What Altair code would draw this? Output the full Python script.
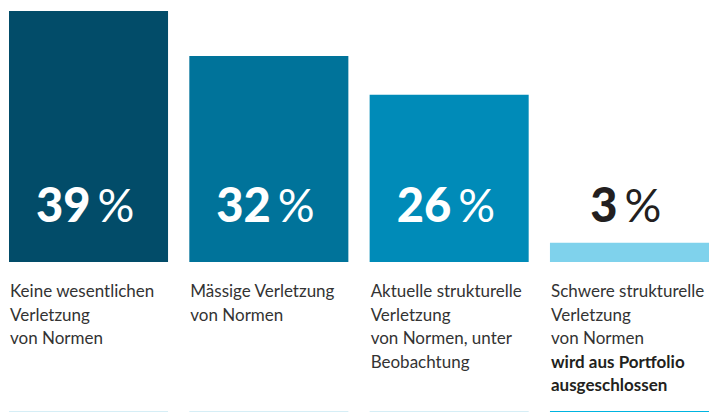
import altair as alt
import pandas as pd

categories = ["A", "B", "C", "D"]
values = [39, 32, 26, 3]
labels = [
    "Keine wesentlichen\nVerletzung\nvon Normen",
    "Mässige Verletzung\nvon Normen",
    "Aktuelle strukturelle\nVerletzung\nvon Normen, unter\nBeobachtung",
    "Schwere strukturelle\nVerletzung\nvon Normen",
]
notes = ["", "", "", "wird aus Portfolio\nausgeschlossen"]
bar_colors = ["#024c69", "#00739a", "#008bb8", "#7fd2ec"]
line_colors = ["#d6eef6", "#d6eef6", "#d6eef6", "#00b4e0"]

df = pd.DataFrame({
    "cat": categories,
    "value": values,
    "label": labels,
    "note": notes,
    "num": [str(v) for v in values],
    "pct": ["%"] * len(values),
})

FONT = "Lato"

x = alt.X("cat:N", sort=categories, axis=None,
          scale=alt.Scale(paddingInner=0.118, paddingOuter=0))
x_left = alt.X("cat:N", sort=categories, axis=None, bandPosition=0,
               scale=alt.Scale(paddingInner=0.118, paddingOuter=0))

base = alt.Chart(df)

bars = base.mark_bar().encode(
    x=x,
    y=alt.Y("value:Q", axis=None, scale=alt.Scale(domain=[0, 39], nice=False, zero=True)),
    color=alt.Color("cat:N", scale=alt.Scale(domain=categories, range=bar_colors), legend=None),
)

txt_color = alt.condition(alt.datum.value >= 10, alt.value("white"), alt.value("#231f20"))

num_big = base.transform_filter(alt.datum.value >= 10).mark_text(
    font=FONT, fontSize=47, fontWeight=900, align="right", baseline="alphabetic", dx=2
).encode(x=x, y=alt.value(211), text="num:N", color=txt_color)
pct_big = base.transform_filter(alt.datum.value >= 10).mark_text(
    font=FONT, fontSize=46, fontWeight="normal", align="left", baseline="alphabetic", dx=9
).encode(x=x, y=alt.value(211), text="pct:N", color=txt_color)
num_small = base.transform_filter(alt.datum.value < 10).mark_text(
    font=FONT, fontSize=47, fontWeight=900, align="right", baseline="alphabetic", dx=-12
).encode(x=x, y=alt.value(211), text="num:N", color=txt_color)
pct_small = base.transform_filter(alt.datum.value < 10).mark_text(
    font=FONT, fontSize=46, fontWeight="normal", align="left", baseline="alphabetic", dx=-5
).encode(x=x, y=alt.value(211), text="pct:N", color=txt_color)

cat_text = base.mark_text(
    font=FONT, fontSize=17, align="left", baseline="alphabetic",
    lineBreak="\n", lineHeight=23.5, color="#333333", dx=1
).encode(x=x_left, y=alt.value(286), text="label:N")

note_text = base.mark_text(
    font=FONT, fontSize=17, fontWeight="bold", align="left", baseline="alphabetic",
    lineBreak="\n", lineHeight=23.5, color="#231f20", dx=1
).encode(x=x_left, y=alt.value(356.5), text="note:N")

bottom_lines = base.mark_rect().encode(
    x=x,
    y=alt.value(400),
    y2=alt.value(401.5),
    color=alt.Color("cat:N", scale=alt.Scale(domain=categories, range=line_colors), legend=None),
)

chart = alt.layer(
    bars, num_big, pct_big, num_small, pct_small, cat_text, note_text, bottom_lines
).resolve_scale(color="independent").properties(
    width=700, height=251,
    autosize=alt.AutoSizeParams(type="none"),
    padding={"left": 1, "top": 3, "right": 6, "bottom": 150},
).configure_view(stroke=None)

chart.save("out.html", embed_options={"renderer": "svg", "actions": False})
